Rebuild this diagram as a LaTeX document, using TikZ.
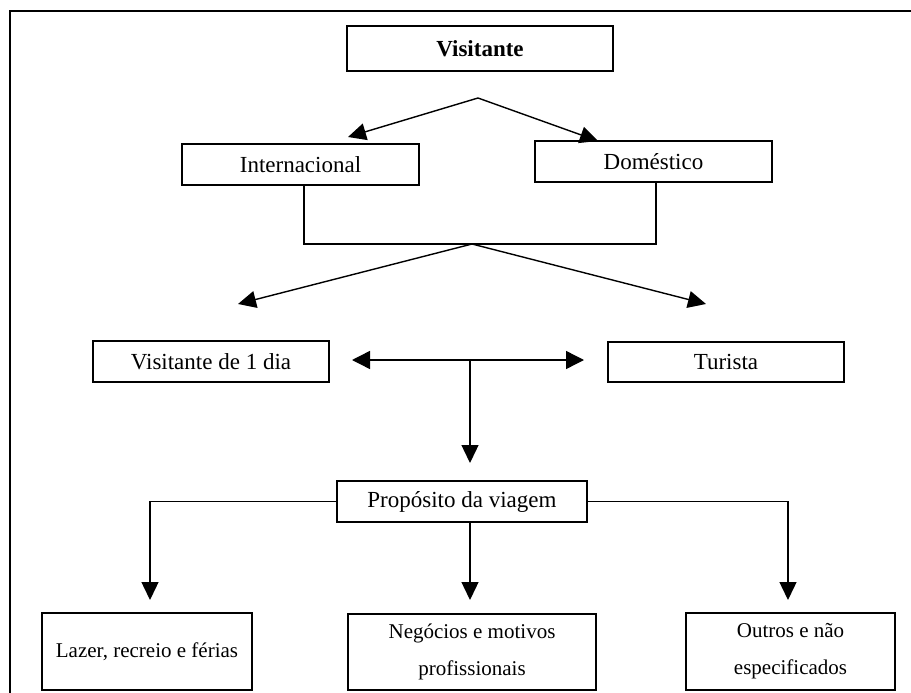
\documentclass[tikz,border=0pt]{standalone}
\usepackage{fontspec}
\setmainfont{Liberation Serif}
\usetikzlibrary{arrows.meta}
\begin{document}
\begin{tikzpicture}[x=1pt,y=-1pt,
  box/.style={draw, line width=1.2pt, inner sep=0pt, align=center,
    font=\fontsize{23}{27}\selectfont},
  lowbox/.style={box, font=\fontsize{21}{37}\selectfont},
  link/.style={line width=1.4pt},
  arr/.style={link, -{Triangle[length=18pt,width=17pt]}},
  twoway/.style={link, {Triangle[length=18pt,width=18pt]}-{Triangle[length=18pt,width=18pt]}},
]
\useasboundingbox (0,0) rectangle (911,693);
% outer frame (top and left edges)
\draw[line width=2.5pt] (911,11) -- (10,11) -- (10,693);

% boxes
\node[box, minimum width=266pt, minimum height=45pt,
      font=\fontsize{23}{27}\selectfont\bfseries] (vis) at (480,48.5) {Visitante};
\node[box, minimum width=237pt, minimum height=41pt] (int) at (300.5,164.5) {Internacional};
\node[box, minimum width=237pt, minimum height=41pt] (dom) at (653.5,161.5) {Doméstico};
\node[box, minimum width=236pt, minimum height=41pt] (dia) at (211,361.5) {Visitante de 1 dia};
\node[box, minimum width=236pt, minimum height=40pt] (tur) at (726,362) {Turista};
\node[box, minimum width=250pt, minimum height=41pt] (prop) at (462,501.5) {Propósito da viagem};
\node[lowbox, minimum width=210pt, minimum height=77pt] (laz) at (147,651.5) {Lazer, recreio e férias};
\node[lowbox, minimum width=248pt, minimum height=76pt] (neg) at (472,652) {Negócios e motivos\\profissionais};
\node[lowbox, minimum width=209pt, minimum height=77pt] (out) at (790.5,651.5) {Outros e não\\especificados};

% branch points and arrow ends
\coordinate (ap1) at (478,98);
\coordinate (t1) at (348,137);
\coordinate (t2) at (598,141);
\coordinate (ap2) at (472,244);
\coordinate (t3) at (238,304);
\coordinate (t4) at (706,304);
\coordinate (hub) at (470,360);
\coordinate (hl) at (352,360);
\coordinate (hr) at (584,360);
\coordinate (t5) at (470,463);
\coordinate (lf) at (150,600);
\coordinate (md) at (470,600);
\coordinate (rt) at (788,600);

% connectors
\draw[arr] (ap1) -- (t1);
\draw[arr] (ap1) -- (t2);
\draw[link] ([xshift=3.5pt]int.south) |- (ap2) -| ([xshift=2.5pt]dom.south);
\draw[arr] (ap2) -- (t3);
\draw[arr] (ap2) -- (t4);
\draw[twoway] (hl) -- (hr);
\draw[arr] (hub) -- (t5);
\draw[arr] (prop.west) -| (lf);
\draw[arr] (prop.east) -| (rt);
\draw[arr] (prop.south -| md) -- (md);
\end{tikzpicture}
\end{document}
